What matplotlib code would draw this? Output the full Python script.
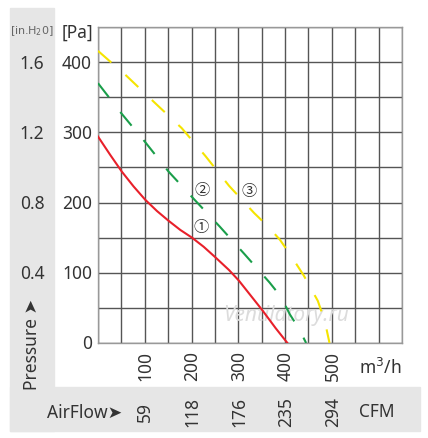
import matplotlib
matplotlib.use("Agg")
import matplotlib.pyplot as plt
from matplotlib.patches import Rectangle

# curve data: (flow m3/h, pressure Pa)
red_flow = [0, 26, 51, 76, 101, 126, 151, 176, 201, 226, 251, 280, 301, 326, 351, 380, 405]
red_pa = [294, 268, 244, 223, 204, 188, 174, 161, 150, 137, 122, 104, 89, 68, 47, 21, 0]

green_flow = [0, 50, 101, 151, 205, 260, 314, 367, 391, 410, 430, 445]
green_pa = [370, 327, 286, 244, 205, 166, 126, 86, 66, 41, 20, 0]

yellow_flow = [0, 60, 120, 179, 230, 280, 334, 362, 389, 412, 440, 470, 485, 495]
yellow_pa = [416, 381, 343, 306, 266, 224, 185, 167, 147, 125, 96, 60, 31, 0]

flow_ticks = [100, 200, 300, 400, 500]
cfm_labels = ["59", "118", "176", "235", "294"]
pa_ticks = [0, 100, 200, 300, 400]
inh2o_labels = ["", "0.4", "0.8", "1.2", "1.6"]

TXT = "#333333"
plt.rcParams['font.family'] = ['Noto Sans', 'DejaVu Sans']

fig = plt.figure(figsize=(4.28, 4.39), dpi=100)
W, H = 428.0, 439.0

def fx(px):
    return px / W

def fy(py):
    return 1 - py / H

# gray L-shaped background
fig.patches.append(Rectangle((fx(10), fy(432)), fx(54) - fx(10), fy(9) - fy(432),
                             transform=fig.transFigure, color="#e6e6e6", zorder=0))
fig.patches.append(Rectangle((fx(10), fy(432)), fx(420) - fx(10), fy(388) - fy(432),
                             transform=fig.transFigure, color="#e6e6e6", zorder=0))

ax = fig.add_axes([fx(98), fy(344), fx(402) - fx(98), fy(28) - fy(344)])
ax.set_xlim(0, 650)
ax.set_ylim(0, 450)
ax.set_xticks(range(0, 651, 50))
ax.set_yticks(range(0, 451, 50))
ax.tick_params(length=0, labelbottom=False, labelleft=False)
ax.grid(True, color="#555555", linewidth=1.0)
for s in ax.spines.values():
    s.set_color("#999999")
    s.set_linewidth(1.0)
ax.set_axisbelow(True)

ax.plot(red_flow, red_pa, color="#e8202a", lw=1.5, zorder=3)
ax.plot(green_flow, green_pa, color="#1a9e4a", lw=1.5, ls=(0, (8.5, 9)), zorder=3)
ax.plot(yellow_flow, yellow_pa, color="#f5e400", lw=1.5, ls=(0, (8.5, 9)), zorder=3)

circ = ['Noto Sans CJK JP', 'DejaVu Sans']
ax.text(223, 219, "②", family=circ, fontsize=11, color=TXT, ha="center", va="center", zorder=4)
ax.text(324, 217, "③", family=circ, fontsize=11, color=TXT, ha="center", va="center", zorder=4)
ax.text(221, 166, "①", family=circ, fontsize=11, color=TXT, ha="center", va="center", zorder=4)

ax.text(0.62, 0.09, "Ventilatory.ru", transform=ax.transAxes, fontsize=15, style="italic",
        color="#dcdcdc", ha="center", va="center", zorder=1)

# pressure labels
for v, lab in zip(pa_ticks, inh2o_labels):
    yy = fy(344 - v * 0.7)
    fig.text(fx(92), yy, str(v), fontsize=12.5, color=TXT, ha="right", va="center")
    if lab:
        fig.text(fx(32), yy, lab, fontsize=12.5, color=TXT, ha="center", va="center")

fig.text(fx(77), fy(33), "[Pa]", fontsize=12.5, color=TXT, ha="center", va="center")
fig.text(fx(32), fy(31), "[in.H$_2$0]", family=['Liberation Sans Narrow', 'DejaVu Sans'],
         fontsize=8, color="#666666", ha="center", va="center")
fig.text(fx(32), fy(345), "Pressure ➤", family=['Noto Sans', 'DejaVu Sans'], fontsize=12.5,
         color=TXT, ha="center", va="center", rotation=90)

# flow labels
for v, c in zip(flow_ticks, cfm_labels):
    xx = fx(98 + v * 0.47)
    fig.text(xx, fy(366), str(v), fontsize=12.5, color=TXT, ha="center", va="center", rotation=90)
    fig.text(xx, fy(412), c, fontsize=12.5, color=TXT, ha="center", va="center", rotation=90)

fig.text(fx(380), fy(368), "m$^3$/h", fontsize=12.5, color=TXT, ha="center", va="center")
fig.text(fx(377), fy(412), "CFM", fontsize=12.5, color=TXT, ha="center", va="center")
fig.text(fx(85), fy(413), "AirFlow➤", family=['Noto Sans', 'DejaVu Sans'], fontsize=12.5,
         color=TXT, ha="center", va="center")

fig.savefig("out.png", dpi=100)
